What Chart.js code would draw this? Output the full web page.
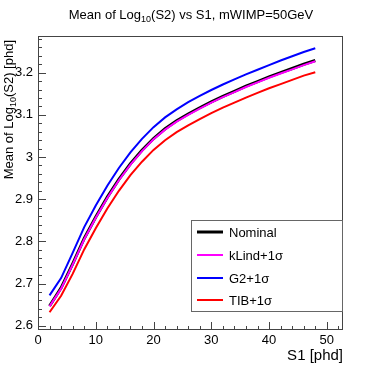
<!DOCTYPE html>
<html lang="en">
<head>
    <meta charset="UTF-8">
    <title>Mean of Log10(S2) vs S1</title>
    <script src="https://cdn.jsdelivr.net/npm/chart.js"></script>
    <style>
        html, body { margin: 0; padding: 0; background: #fff; }
        #wrap { width: 382px; height: 367px; }
    </style>
</head>
<body>
<div id="wrap"><canvas id="c" width="382" height="367"></canvas></div>
<script>
    // data
    const s1 = [2, 4, 6, 8, 10, 12, 14, 16, 18, 20, 22, 24, 26, 28, 30, 32, 34, 36, 38, 40, 42, 44, 46, 48];
    const nominal = [2.647, 2.690, 2.747, 2.807, 2.858, 2.905, 2.947, 2.984, 3.016, 3.044, 3.067, 3.086,
                     3.102, 3.117, 3.131, 3.144, 3.156, 3.168, 3.179, 3.190, 3.200, 3.210, 3.220, 3.229];
    const kLind = [2.646, 2.688, 2.745, 2.805, 2.856, 2.903, 2.945, 2.982, 3.014, 3.042, 3.065, 3.084,
                   3.100, 3.115, 3.129, 3.142, 3.154, 3.166, 3.177, 3.188, 3.198, 3.208, 3.218, 3.227];
    const g2 = [2.672, 2.713, 2.773, 2.834, 2.885, 2.932, 2.974, 3.011, 3.043, 3.071, 3.094, 3.113,
                3.130, 3.145, 3.159, 3.172, 3.184, 3.196, 3.207, 3.218, 3.229, 3.239, 3.249, 3.258];
    const tib = [2.632, 2.671, 2.723, 2.781, 2.831, 2.878, 2.920, 2.957, 2.989, 3.017, 3.040, 3.059,
                 3.075, 3.090, 3.104, 3.117, 3.129, 3.141, 3.152, 3.163, 3.173, 3.183, 3.193, 3.201];
    const xTicks = [0, 10, 20, 30, 40, 50];
    const yTicks = [2.6, 2.7, 2.8, 2.9, 3.0, 3.1, 3.2];
    const seriesNames = ['Nominal', 'kLind+1\u03c3', 'G2+1\u03c3', 'TIB+1\u03c3'];

    const FONT = 'Liberation Sans, Arial, sans-serif';

    function pts(vals) {
        return vals.map((v, i) => ({x: s1[i], y: v}));
    }

    // text with a subscript piece, e.g. ['Mean of Log', '10', '(S2)...']
    function drawSubText(ctx, parts, x, y, size, align) {
        ctx.font = size + 'px ' + FONT;
        const w0 = ctx.measureText(parts[0]).width;
        ctx.font = Math.round(size * 0.7) + 'px ' + FONT;
        const w1 = ctx.measureText(parts[1]).width;
        ctx.font = size + 'px ' + FONT;
        const w2 = ctx.measureText(parts[2]).width;
        const total = w0 + w1 + w2;
        let sx = align === 'center' ? x - total / 2 : (align === 'right' ? x - total : x);
        ctx.textAlign = 'left';
        ctx.textBaseline = 'middle';
        ctx.fillText(parts[0], sx, y);
        ctx.font = Math.round(size * 0.7) + 'px ' + FONT;
        ctx.fillText(parts[1], sx + w0, y + size * 0.35);
        ctx.font = size + 'px ' + FONT;
        ctx.fillText(parts[2], sx + w0 + w1, y);
    }

    const rootStyle = {
        id: 'rootStyle',
        afterDraw(chart) {
            const ctx = chart.ctx;
            const a = chart.chartArea;
            const xs = chart.scales.x, ys = chart.scales.y;
            ctx.save();

            // frame
            ctx.strokeStyle = '#444';
            ctx.lineWidth = 1;
            ctx.strokeRect(a.left + 0.5, a.top + 0.5, a.right - a.left - 1, a.bottom - a.top - 1);

            // inner ticks
            ctx.beginPath();
            for (let v = 0; v <= 52; v += 2) {
                const px = Math.round(xs.getPixelForValue(v)) + 0.5;
                const len = v % 10 === 0 ? 8 : 4;
                ctx.moveTo(px, a.bottom);
                ctx.lineTo(px, a.bottom - len);
            }
            for (let k = 0; k <= 34; k++) {
                const v = 2.6 + k * 0.02;
                if (v > ys.max) break;
                const py = Math.round(ys.getPixelForValue(v)) + 0.5;
                const len = k % 5 === 0 ? 8 : 4;
                ctx.moveTo(a.left, py);
                ctx.lineTo(a.left + len, py);
            }
            ctx.stroke();

            ctx.fillStyle = '#000';
            // title
            drawSubText(ctx, ['Mean of Log', '10', '(S2) vs S1, mWIMP=50GeV'], 191, 15, 13, 'center');

            // axis titles
            ctx.font = '15px ' + FONT;
            ctx.textAlign = 'right';
            ctx.textBaseline = 'middle';
            ctx.fillText('S1 [phd]', a.right, 356);

            ctx.save();
            ctx.translate(9, a.top + 4);
            ctx.rotate(-Math.PI / 2);
            drawSubText(ctx, ['Mean of Log', '10', '(S2) [phd]'], 0, 0, 13, 'right');
            ctx.restore();

            // legend box
            const lx = 191, ly = 220, lw = a.right - lx, lh = 92;
            ctx.fillStyle = '#fff';
            ctx.fillRect(lx, ly, lw, lh);
            ctx.strokeStyle = '#666';
            ctx.strokeRect(lx + 0.5, ly + 0.5, lw - 1, lh - 1);
            const rows = [232, 255, 278, 300];
            chart.data.datasets.forEach((ds, i) => {
                ctx.strokeStyle = ds.borderColor;
                ctx.lineWidth = ds.borderWidth;
                ctx.beginPath();
                ctx.moveTo(197, rows[i]);
                ctx.lineTo(223, rows[i]);
                ctx.stroke();
                ctx.fillStyle = '#000';
                ctx.font = '13px ' + FONT;
                ctx.textAlign = 'left';
                ctx.textBaseline = 'middle';
                ctx.fillText(ds.label, 229, rows[i] + 1);
            });
            ctx.restore();
        }
    };

    new Chart(document.getElementById('c'), {
        type: 'line',
        data: {
            datasets: [
                {label: seriesNames[0], data: pts(nominal), borderColor: '#000000', borderWidth: 3, order: 2},
                {label: seriesNames[1], data: pts(kLind), borderColor: '#ff00ff', borderWidth: 2, order: 1},
                {label: seriesNames[2], data: pts(g2), borderColor: '#0000ff', borderWidth: 2, order: 0},
                {label: seriesNames[3], data: pts(tib), borderColor: '#ff0000', borderWidth: 2, order: 0}
            ]
        },
        options: {
            responsive: false,
            animation: false,
            events: [],
            layout: {padding: {left: 0, right: 39, top: 36, bottom: 0}},
            elements: {
                point: {radius: 0},
                line: {tension: 0, fill: false, borderCapStyle: 'butt'}
            },
            plugins: {
                legend: {display: false},
                title: {display: false},
                tooltip: {enabled: false}
            },
            scales: {
                x: {
                    type: 'linear',
                    min: 0,
                    max: 52.8,
                    afterFit: s => { s.height = 37; },
                    afterBuildTicks: s => { s.ticks = xTicks.map(v => ({value: v})); },
                    grid: {display: false, drawTicks: false},
                    border: {display: false},
                    ticks: {
                        color: '#000',
                        padding: 3,
                        maxRotation: 0,
                        autoSkip: false,
                        font: {family: FONT, size: 13},
                        callback: v => String(v)
                    }
                },
                y: {
                    type: 'linear',
                    min: 2.59,
                    max: 3.287,
                    afterFit: s => { s.width = 38; },
                    afterBuildTicks: s => { s.ticks = yTicks.map(v => ({value: v})); },
                    grid: {display: false, drawTicks: false},
                    border: {display: false},
                    ticks: {
                        color: '#000',
                        padding: 5,
                        autoSkip: false,
                        font: {family: FONT, size: 13},
                        callback: v => (Math.round(v * 10) / 10).toString()
                    }
                }
            }
        },
        plugins: [rootStyle]
    });
</script>
</body>
</html>
